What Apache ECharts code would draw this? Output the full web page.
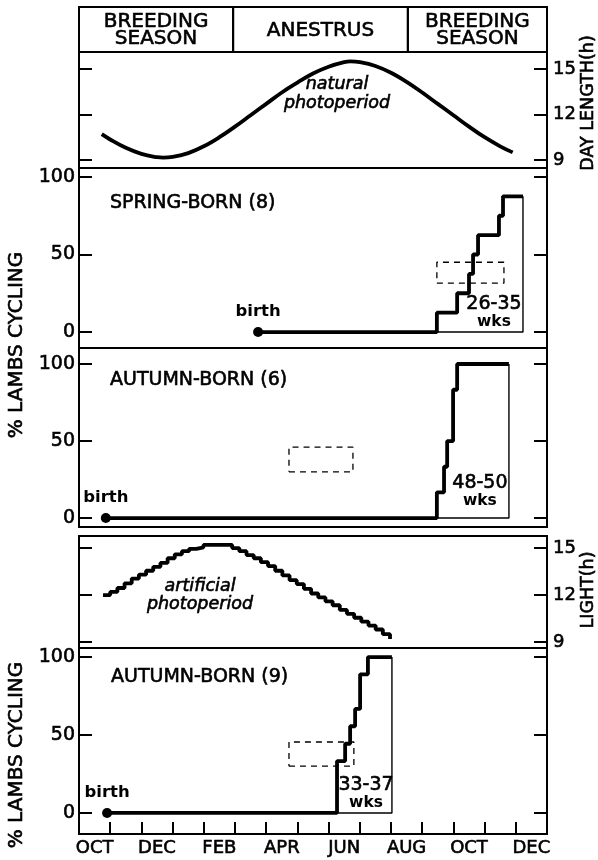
<!DOCTYPE html>
<html><head><meta charset="utf-8">
<script src="https://cdn.jsdelivr.net/npm/echarts@6/dist/echarts.min.js"></script>
<style>html,body{margin:0;padding:0;background:#fff}#c{width:598px;height:860px}</style>
</head><body><div id="c"></div>
<script>
// ---------- data ----------
const months = ['OCT','NOV','DEC','JAN','FEB','MAR','APR','MAY','JUN','JUL','AUG','SEP','OCT','NOV','DEC'];
const monthTicks = [1,2,3,4,5,6,7,8,9,10,11,12,13,14];
const monthLabelAt = [0.5,2.5,4.5,6.5,8.5,10.5,12.5,14.5];
const seasonNames = ['BREEDING\nSEASON','ANESTRUS','BREEDING\nSEASON'];
const seasonStart = [0, 4.94, 10.54];
const seasonEnd = [4.94, 10.54, 15];
const hourTicks = [9, 12, 15];
const pctTicks = [0, 50, 100];

// natural photoperiod (months since Oct 1, hours)
const naturalMonth = [0.73,1.0,1.5,2.0,2.5,2.7,3.0,3.5,4.0,4.5,5.0,5.5,6.0,6.5,7.0,7.5,8.0,8.5,8.7,9.0,9.5,10.0,10.5,11.0,11.5,12.0,12.5,13.0,13.5,13.9];
const naturalHours = [10.7,10.35,9.8,9.4,9.18,9.15,9.2,9.45,9.9,10.5,11.2,11.95,12.7,13.45,14.1,14.7,15.15,15.45,15.5,15.45,15.2,14.75,14.15,13.45,12.7,11.95,11.2,10.5,9.9,9.5];

// spring-born (8)
const springMonth = [5.74,11.47,12.12,12.50,12.63,12.79,13.46,13.59,14.23];
const springPct   = [0,12.5,25,37.5,50,62.5,75,87.5,87.5];
const springDash  = [11.47,13.62,31.5,45];
const springWks   = '26-35';
const springWksAt = [13.3,12.3];

// autumn-born (6)
const autumn6Month = [0.86,11.47,11.70,11.80,11.99,12.12,13.78];
const autumn6Pct   = [0,16.7,33.3,50,83.3,100,100];
const autumn6Dash  = [6.73,8.78,30,46];
const autumn6Wks   = '48-50';
const autumn6WksAt = [12.85,17];

// artificial photoperiod, weekly steps from first week
const artificialStart = 0.77;
const artificialHours = [12.0,12.2,12.45,12.75,13.05,13.3,13.55,13.8,14.05,14.35,14.6,14.8,14.95,15.05,15.2,15.2,15.2,15.2,15.0,14.8,14.55,14.35,14.1,13.85,13.55,13.25,12.95,12.7,12.4,12.1,11.85,11.6,11.35,11.05,10.8,10.55,10.3,10.05,9.8,9.5,9.2];

// autumn-born (9)
const autumn9Month = [0.9,8.27,8.53,8.69,8.85,9.01,9.26,10.03];
const autumn9Pct   = [0,33.3,44.4,55.6,66.7,88.9,100,100];
const autumn9Dash  = [6.73,8.81,30,45.5];
const autumn9Wks   = '33-37';
const autumn9WksAt = [9.2,12.2];

// ---------- chart ----------
const FF = '"DejaVu Sans", sans-serif';
const SW = 0.6; // text stroke to match the heavier print weight
const L = 79, R = 51;
const gridDefs = [
  {top:7, height:45},
  {top:52, height:116},
  {top:168, height:180},
  {top:348, height:179},
  {top:536, height:112},
  {top:648, height:186}
];
const grid = gridDefs.map(g => ({left:L, right:R, top:g.top, height:g.height, show:true, borderColor:'#000', borderWidth:2, backgroundColor:'transparent'}));

const xAxis = gridDefs.map((g,i) => {
  const ax = {gridIndex:i, type:'value', min:0, max:15, show:false, splitLine:{show:false}, axisLine:{show:false, onZero:false}};
  if (i === 5) {
    Object.assign(ax, {
      show:true, position:'bottom',
      axisLine:{show:false, onZero:false},
      axisTick:{show:true, inside:true, length:12, customValues:monthTicks, lineStyle:{color:'#000', width:2}},
      axisLabel:{show:true, customValues:monthLabelAt, formatter:v => months[Math.floor(v)], color:'#000', fontFamily:FF, fontSize:18, margin:5, textBorderColor:'#000', textBorderWidth:SW}
    });
  }
  return ax;
});

function yPair(gi, min, max, ticks, labelSide) {
  const mk = (pos) => ({
    gridIndex:gi, type:'value', min, max, position:pos,
    axisLine:{show:false, onZero:false}, splitLine:{show:false},
    axisTick:{show:true, inside:true, length:13, customValues:ticks, lineStyle:{color:'#000', width:2}},
    axisLabel: (pos === labelSide)
      ? (pos === 'left'
         ? {show:true, customValues:ticks, color:'#000', fontFamily:FF, fontSize:19, margin:4, textBorderColor:'#000', textBorderWidth:SW}
         : {show:true, customValues:ticks, color:'#000', fontFamily:FF, fontSize:18, margin:6, textBorderColor:'#000', textBorderWidth:SW})
      : {show:false}
  });
  return [mk('left'), mk('right')];
}
const yAxis = [
  {gridIndex:0, type:'value', min:0, max:1, show:false, splitLine:{show:false}},
  ...yPair(1, 8.47, 16.12, hourTicks, 'right'),
  ...yPair(2, -10.3, 105.8, pctTicks, 'left'),
  ...yPair(3, -5.8, 110.4, pctTicks, 'left'),
  ...yPair(4, 8.62, 15.77, hourTicks, 'right'),
  ...yPair(5, -13.5, 105.8, pctTicks, 'left')
];

function lambSeries(gi, xs, ps, dash, wks, wksAt) {
  const yi = 2*gi - 1, n = xs.length;
  const base = {xAxisIndex:gi, yAxisIndex:yi, animation:false, silent:true};
  return [
    Object.assign({type:'line', step:'end', symbol:'none', data:xs.map((x,i)=>[x,ps[i]]), lineStyle:{color:'#000', width:3.8}, z:4}, base),
    Object.assign({type:'line', symbol:'none', data:[[xs[1],0],[xs[n-1],0],[xs[n-1],ps[n-1]]], lineStyle:{color:'#000', width:1.4}, z:3}, base),
    Object.assign({type:'line', symbol:'none', data:[[dash[0],dash[2]],[dash[1],dash[2]],[dash[1],dash[3]],[dash[0],dash[3]],[dash[0],dash[2]]], lineStyle:{color:'#000', width:1.3, type:[6,5]}, z:2}, base),
    Object.assign({type:'scatter', symbol:'circle', symbolSize:10, itemStyle:{color:'#000', opacity:1}, data:[[xs[0],0]],
      label:{show:true, position:'top', distance:7, formatter:'birth', color:'#000', opacity:1, fontFamily:FF, fontSize:16.5, fontWeight:'bold'}, z:5}, base),
    Object.assign({type:'scatter', symbolSize:0, itemStyle:{opacity:1}, data:[wksAt],
      label:{show:true, position:'inside', color:'#000', opacity:1, textBorderWidth:0, formatter:'{a|' + wks + '}\n{b|wks}', rich:{
        a:{fontFamily:FF, fontSize:19, color:'#000', textBorderColor:'#000', textBorderWidth:SW, lineHeight:19, align:'center'},
        b:{fontFamily:FF, fontSize:15.5, fontWeight:'bold', color:'#000', textBorderWidth:0, lineHeight:17, align:'center'}}}, z:5}, base)
  ];
}

const series = [
  {type:'custom', xAxisIndex:0, yAxisIndex:0, silent:true, animation:false,
   data: seasonStart.map((s,i)=>[s, seasonEnd[i]]),
   renderItem:(params, api) => {
     const p0 = api.coord([api.value(0), 1]);
     const p1 = api.coord([api.value(1), 0]);
     return {type:'group', children:[
       {type:'rect', shape:{x:p0[0], y:p0[1], width:p1[0]-p0[0], height:p1[1]-p0[1]}, style:{fill:'none', stroke:'#000', lineWidth:2}},
       {type:'text', x:(p0[0]+p1[0])/2, y:(p0[1]+p1[1])/2+1, style:{text:seasonNames[params.dataIndex], fill:'#000', stroke:'#000', lineWidth:SW, font:'20px ' + FF, align:'center', verticalAlign:'middle', textAlign:'center', textVerticalAlign:'middle', lineHeight:17}}
     ]};
   }},
  {type:'line', xAxisIndex:1, yAxisIndex:1, smooth:0.4, symbol:'none', animation:false, silent:true,
   data: naturalMonth.map((m,i)=>[m, naturalHours[i]]), lineStyle:{color:'#000', width:3.8}},
  ...lambSeries(2, springMonth, springPct, springDash, springWks, springWksAt),
  ...lambSeries(3, autumn6Month, autumn6Pct, autumn6Dash, autumn6Wks, autumn6WksAt),
  {type:'line', xAxisIndex:4, yAxisIndex:7, step:'end', symbol:'none', animation:false, silent:true,
   data: artificialHours.map((h,i)=>[artificialStart + i*7/30.44, h]), lineStyle:{color:'#000', width:3.8}},
  ...lambSeries(5, autumn9Month, autumn9Pct, autumn9Dash, autumn9Wks, autumn9WksAt)
];

function txt(x, y, text, opt) {
  return Object.assign({type:'text', x, y, silent:true, style:Object.assign({text, fill:'#000', stroke:'#000', lineWidth:SW, font:'19px ' + FF,
    align:'left', verticalAlign:'middle', textAlign:'left', textVerticalAlign:'middle'}, opt || {})});
}
function vtxt(x, y, text, size) {
  return {type:'text', x, y, rotation:Math.PI/2, silent:true, style:{text, fill:'#000', stroke:'#000', lineWidth:SW, font:size + 'px ' + FF,
    align:'center', verticalAlign:'middle', textAlign:'center', textVerticalAlign:'middle'}};
}
const graphic = [
  txt(110, 203, 'SPRING-BORN (8)'),
  txt(110, 380, 'AUTUMN-BORN (6)'),
  txt(111, 677, 'AUTUMN-BORN (9)'),
  txt(337, 94, 'natural\nphotoperiod', {font:'italic 17.5px ' + FF, align:'center', textAlign:'center', lineHeight:19}),
  txt(200, 595, 'artificial\nphotoperiod', {font:'italic 17.5px ' + FF, align:'center', textAlign:'center', lineHeight:18}),
  vtxt(17, 345, '% LAMBS CYCLING', 20),
  vtxt(17, 755, '% LAMBS CYCLING', 20),
  vtxt(588, 103, 'DAY LENGTH(h)', 17.5),
  vtxt(588, 590, 'LIGHT(h)', 17.5)
];

const chart = echarts.init(document.getElementById('c'), null, {renderer:'canvas'});
chart.setOption({animation:false, backgroundColor:'#fff', grid, xAxis, yAxis, series, graphic});
</script>
</body></html>
